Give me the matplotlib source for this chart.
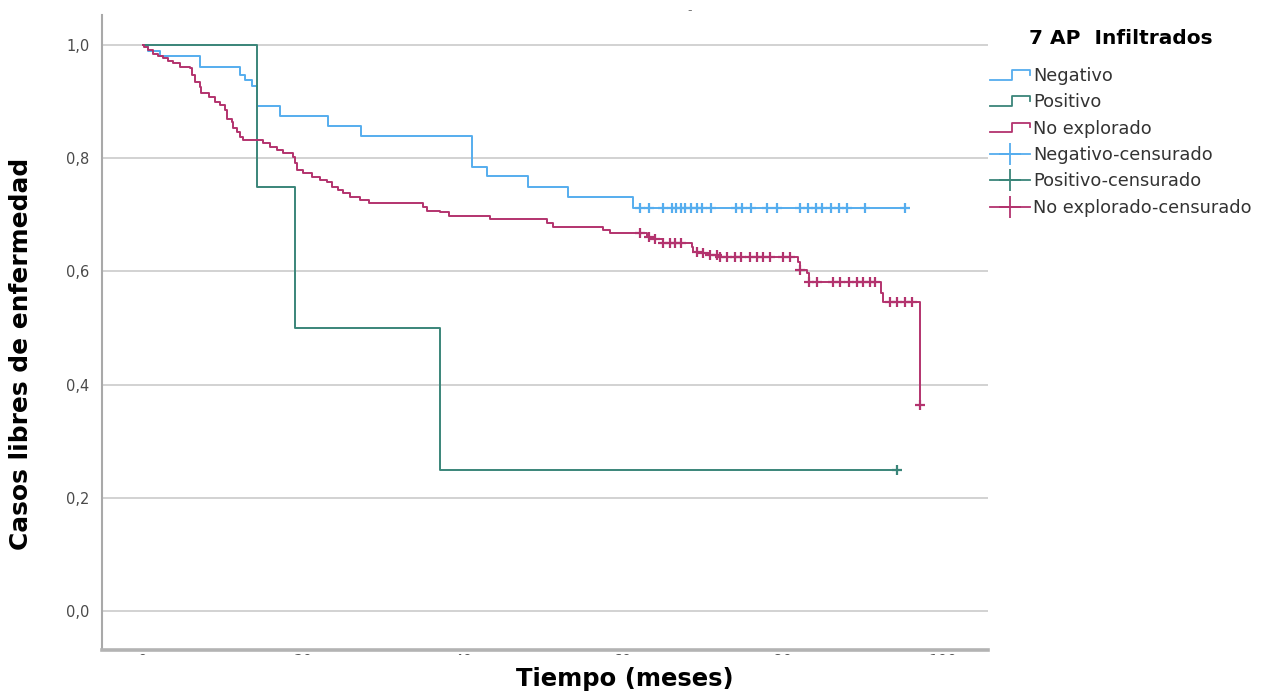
import numpy as np
import matplotlib.pyplot as plt
from matplotlib.legend_handler import HandlerBase
from matplotlib.lines import Line2D
from matplotlib.patches import Rectangle

# Kaplan-Meier por grupo: tiempos de evento (meses), supervivencia tras el evento
# y tiempos de censura
neg_event_t = [0.6, 2.1, 7.1, 12.1, 12.75, 13.6, 14.25, 17.1, 23.1, 27.25,
               41.1, 43.0, 48.1, 53.1, 61.25]
neg_surv = [0.989, 0.981, 0.962, 0.947, 0.938, 0.928, 0.892, 0.874, 0.857, 0.839,
            0.785, 0.769, 0.749, 0.732, 0.712]
neg_cens_t = [62.1, 63.2, 65.0, 66.1, 66.6, 67.2, 67.8, 68.5, 69.2, 69.9, 71.0,
              74.1, 74.9, 76.0, 78.0, 79.2, 82.1, 83.1, 84.1, 84.9, 86.0, 87.0,
              88.0, 90.2, 95.25]

pos_event_t = [14.25, 19.0, 37.1]
pos_surv = [0.75, 0.50, 0.25]
pos_cens_t = [94.25]

noexp_event_t = [0.1, 0.6, 1.3, 1.9, 2.5, 3.1, 3.8, 4.6, 5.9, 6.1, 6.5, 7.1, 7.3,
                 8.2, 9.0, 9.6, 10.25, 10.5, 11.1, 11.2, 11.7, 12.1, 12.5, 15.0,
                 15.9, 16.7, 17.5, 18.8, 19.0, 19.2, 20.0, 21.1, 22.1, 23.0, 23.6,
                 24.4, 25.0, 25.9, 27.1, 28.2, 35.0, 35.5, 37.1, 38.2, 43.4, 50.5,
                 51.3, 57.5, 58.4, 63.0, 63.8, 65.0, 68.6, 68.8, 69.6, 70.9, 72.1,
                 81.9, 82.1, 83.0, 83.2, 92.3, 92.5, 97.1]
noexp_surv = [0.997, 0.991, 0.985, 0.981, 0.977, 0.972, 0.968, 0.962, 0.959, 0.947,
              0.935, 0.926, 0.915, 0.909, 0.900, 0.894, 0.885, 0.870, 0.864, 0.853,
              0.847, 0.838, 0.832, 0.826, 0.820, 0.814, 0.809, 0.803, 0.791, 0.779,
              0.773, 0.767, 0.761, 0.758, 0.750, 0.744, 0.738, 0.732, 0.726, 0.721,
              0.714, 0.707, 0.705, 0.698, 0.692, 0.685, 0.679, 0.673, 0.667, 0.661,
              0.658, 0.651, 0.644, 0.635, 0.633, 0.629, 0.625, 0.617, 0.602, 0.597,
              0.582, 0.561, 0.546, 0.364]
noexp_cens_t = [62.1, 63.2, 64.0, 65.0, 65.9, 66.5, 67.3, 69.2, 70.0, 70.9, 71.7,
                72.1, 73.0, 74.0, 74.8, 75.9, 76.7, 77.5, 78.4, 80.0, 80.9, 82.1,
                83.2, 84.2, 86.3, 87.1, 88.2, 89.2, 90.0, 90.9, 91.5, 93.4, 94.2,
                95.25, 96.1, 97.1]

groups = ["Negativo", "Positivo", "No explorado"]
colors = ["#55adee", "#3a8579", "#b3336e"]
x_ticks = [0, 20, 40, 60, 80, 100]
y_ticks = [0.0, 0.2, 0.4, 0.6, 0.8, 1.0]

curves = [
    (neg_event_t, neg_surv, neg_cens_t),
    (pos_event_t, pos_surv, pos_cens_t),
    (noexp_event_t, noexp_surv, noexp_cens_t),
]

W, H = 1263, 695
fig = plt.figure(figsize=(W / 100, H / 100), dpi=100)
ax = fig.add_axes([0.0808, 0.0647, 0.7015, 0.9137])

for (ev_t, surv, cens_t), color in zip(curves, colors):
    levels = np.concatenate([[1.0], surv])
    t_end = max(ev_t[-1], cens_t[-1])
    t = np.concatenate([[0.0], ev_t, [t_end]])
    s = np.concatenate([levels, [levels[-1]]])
    ax.step(t, s, where="post", color=color, lw=1.4, zorder=3)
    # la marca de censura se dibuja sobre el nivel vigente en ese tiempo
    idx = np.searchsorted(ev_t, cens_t, side="right")
    ax.plot(cens_t, levels[idx], ls="none", marker="+", ms=7, mew=1.6,
            color=color, zorder=4)

ax.set_xlim(-5.125, 105.625)
ax.set_ylim(-0.0689, 1.053)
ax.set_yticks(y_ticks)
ax.set_yticklabels([f"{v:.1f}".replace(".", ",") for v in y_ticks])
ax.set_xticks(x_ticks)
ax.set_xticklabels([str(v) for v in x_ticks])
ax.tick_params(axis="y", length=0, pad=9, labelsize=10.5, labelcolor="#4a4a4a")
ax.tick_params(axis="x", length=0, pad=3, labelsize=11, labelcolor="#555555")

ax.yaxis.grid(True, color="#d2d2d2", lw=1.4)
ax.set_axisbelow(True)
for side in ["top", "right"]:
    ax.spines[side].set_visible(False)
ax.spines["left"].set_color("#a9a9a9")
ax.spines["left"].set_linewidth(1.5)
ax.spines["bottom"].set_color("#b3b3b3")
ax.spines["bottom"].set_linewidth(2.6)

ax.set_xlabel("Tiempo (meses)", fontsize=17.5, fontweight="bold")
ax.xaxis.set_label_coords(0.590, -0.027)
ax.set_ylabel("Casos libres de enfermedad", fontsize=17.9, fontweight="bold")
ax.yaxis.set_label_coords(-0.078, 0.466)

# franja blanca que tapa casi todas las etiquetas del eje x
fig.add_artist(Rectangle((0.06, 28 / H), 0.76, 12 / H, transform=fig.transFigure,
                         facecolor="white", edgecolor="none", zorder=5))

fig.text(0.546, 0.985, "-", fontsize=9, color="#777777", ha="center", va="center")


class StepHandler(HandlerBase):
    def create_artists(self, legend, orig_handle, xdescent, ydescent, width,
                       height, fontsize, trans):
        x0 = -xdescent
        x1 = x0 + width
        xm = x0 + 0.55 * width
        lo = -ydescent + 0.1 * height
        hi = -ydescent + 0.9 * height
        line = Line2D([x0, xm, xm, x1, x1], [lo, lo, hi, hi, hi - 0.4 * height],
                      color=orig_handle.get_color(), lw=1.3, transform=trans)
        return [line]


class CensorHandler(HandlerBase):
    def create_artists(self, legend, orig_handle, xdescent, ydescent, width,
                       height, fontsize, trans):
        x0 = -xdescent
        x1 = x0 + width
        y = -ydescent + 0.5 * height
        line = Line2D([x0, x1], [y, y], color=orig_handle.get_color(), lw=1.3,
                      transform=trans)
        mark = Line2D([(x0 + x1) / 2], [y], marker="+", ms=16, mew=1.3,
                      color=orig_handle.get_color(), transform=trans)
        return [line, mark]


handles, labels, hmap = [], [], {}
for g, c in zip(groups, colors):
    h = Line2D([], [], color=c)
    handles.append(h)
    labels.append(g)
    hmap[h] = StepHandler()
for g, c in zip(groups, colors):
    h = Line2D([], [], color=c)
    handles.append(h)
    labels.append(g + "-censurado")
    hmap[h] = CensorHandler()

leg = fig.legend(handles, labels, handler_map=hmap, loc="upper left",
                 bbox_to_anchor=(990 / W, 1 - 67 / H), frameon=False,
                 borderaxespad=0, borderpad=0, fontsize=12.8,
                 handlelength=2.25, handletextpad=0.18, labelspacing=0.47)
for txt in leg.get_texts():
    txt.set_color("#333333")
fig.text(1121 / W, 1 - 38 / H, "7 AP  Infiltrados", fontsize=14.5,
         fontweight="bold", ha="center", va="center")

fig.savefig("out.png", dpi=100)
